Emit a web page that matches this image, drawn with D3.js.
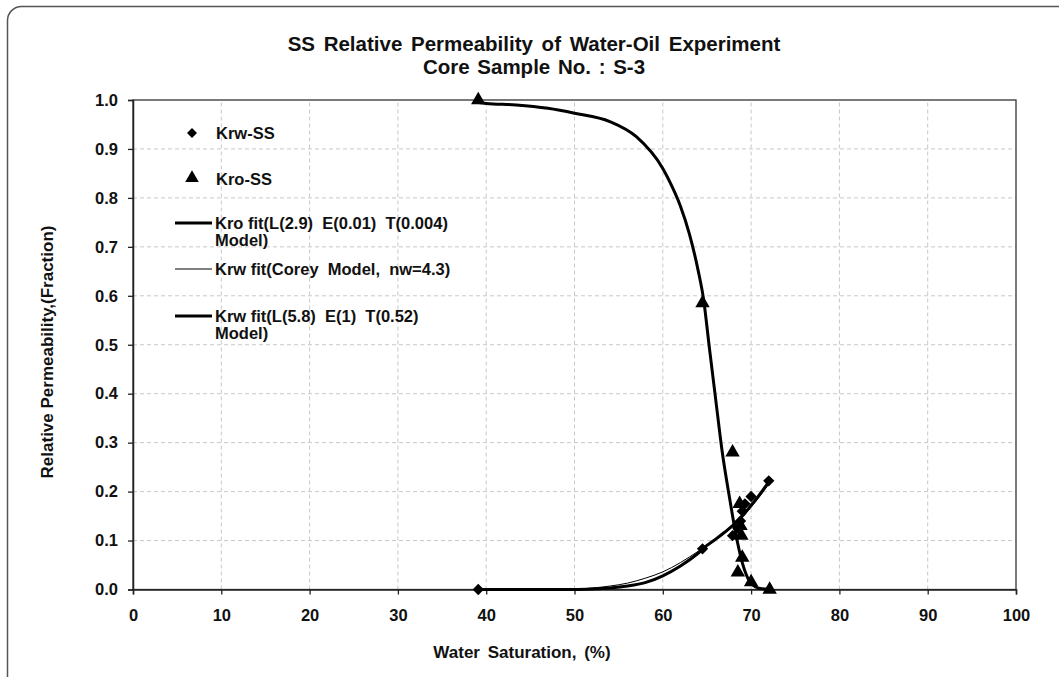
<!DOCTYPE html>
<html>
<head>
<meta charset="utf-8">
<script src="https://cdn.jsdelivr.net/npm/d3@7"></script>
<style>
  body { margin: 0; background: #fff; }
  svg { display: block; font-family: "Liberation Sans", Arial, sans-serif; font-weight: bold; }
</style>
</head>
<body>
<div id="chart"></div>
<script>
// measured points
const krwSw = [39.1, 64.5, 67.9, 68.5, 68.8, 69.0, 69.3, 70.0, 72.0];
const krwVal = [0.0, 0.083, 0.11, 0.125, 0.14, 0.16, 0.175, 0.19, 0.222];
const kroSw = [39.1, 64.5, 67.9, 68.7, 68.8, 68.9, 69.0, 68.5, 70.0, 72.1];
const kroVal = [1.0, 0.585, 0.28, 0.175, 0.13, 0.11, 0.065, 0.035, 0.015, 0.0];

// fitted curves
const kroFitSw = [39.1, 40, 43.4, 47, 50, 54, 57, 60, 61, 62, 63, 64, 64.6, 65.3, 66.0, 66.7, 67.6, 68.2, 69, 69.9, 71, 72.1];
const kroFitVal = [0.995, 0.993, 0.99, 0.983, 0.973, 0.956, 0.925, 0.86, 0.825, 0.783, 0.727, 0.652, 0.595, 0.49, 0.387, 0.285, 0.183, 0.12, 0.055, 0.015, 0.002, 0.0];
const coreySw = [39.1, 45, 50, 52, 54, 56, 58, 60, 62, 64, 66, 68, 70, 72];
const coreyVal = [0, 0, 0.0008, 0.003, 0.007, 0.013, 0.023, 0.036, 0.055, 0.078, 0.102, 0.13, 0.168, 0.215];
const letSw = [39.1, 45, 50, 52, 54, 56, 58, 60, 62, 64, 65, 66, 67, 68, 69, 70, 71, 72];
const letVal = [0, 0, 0, 0.001, 0.003, 0.007, 0.014, 0.028, 0.048, 0.074, 0.09, 0.103, 0.117, 0.132, 0.15, 0.172, 0.195, 0.22];

const xTicks = [0, 10, 20, 30, 40, 50, 60, 70, 80, 90, 100];
const yTicks = [0, 0.1, 0.2, 0.3, 0.4, 0.5, 0.6, 0.7, 0.8, 0.9, 1.0];

const W = 1059, H = 677;
const margin = {left: 133, right: 43, top: 100, bottom: 87.5};
const fs = "16.5px";

const svg = d3.select("#chart").append("svg")
  .attr("width", W).attr("height", H);

// outer frame
svg.append("rect")
  .attr("x", 7.5).attr("y", 6.5)
  .attr("width", W + 20).attr("height", H + 20)
  .attr("rx", 14)
  .attr("fill", "none").attr("stroke", "#555").attr("stroke-width", 1.5);

const x = d3.scaleLinear().domain([0, 100]).range([margin.left, W - margin.right]);
const y = d3.scaleLinear().domain([0, 1]).range([H - margin.bottom, margin.top]);

// grid
svg.append("g")
  .selectAll("line")
  .data(xTicks.slice(1, -1))
  .join("line")
  .attr("x1", d => x(d)).attr("x2", d => x(d))
  .attr("y1", y(0)).attr("y2", y(1))
  .attr("stroke", "#c8c8c8").attr("stroke-dasharray", "4,3");
svg.append("g")
  .selectAll("line")
  .data(yTicks.slice(1, -1))
  .join("line")
  .attr("x1", x(0)).attr("x2", x(100))
  .attr("y1", d => y(d)).attr("y2", d => y(d))
  .attr("stroke", "#c8c8c8").attr("stroke-dasharray", "4,3");

// plot border
svg.append("rect")
  .attr("x", x(0)).attr("y", y(1))
  .attr("width", x(100) - x(0)).attr("height", y(0) - y(1))
  .attr("fill", "none").attr("stroke", "#333").attr("stroke-width", 1.3);

// axes
const xAxis = svg.append("g")
  .attr("transform", `translate(0,${y(0)})`)
  .call(d3.axisBottom(x).tickValues(xTicks).tickSize(5).tickPadding(15).tickFormat(d3.format("d")));
const yAxis = svg.append("g")
  .attr("transform", `translate(${x(0)},0)`)
  .call(d3.axisLeft(y).tickValues(yTicks).tickSize(5).tickPadding(10).tickFormat(d3.format(".1f")));
[xAxis, yAxis].forEach(a => {
  a.select(".domain").attr("stroke", "#222").attr("stroke-width", 1.5);
  a.selectAll(".tick line").attr("stroke", "#222").attr("stroke-width", 1.3);
  a.selectAll("text").attr("fill", "#111").style("font-size", fs).style("font-weight", "bold")
    .style("font-family", "Liberation Sans, Arial, sans-serif");
});

// curves
const line = d3.line().x(d => x(d[0])).y(d => y(d[1])).curve(d3.curveMonotoneX);
const zip = (a, b) => a.map((v, i) => [v, b[i]]);

svg.append("path").datum(zip(letSw, letVal)).attr("d", line)
  .attr("fill", "none").attr("stroke", "#000").attr("stroke-width", 3);
svg.append("path").datum(zip(coreySw, coreyVal)).attr("d", line)
  .attr("fill", "none").attr("stroke", "#000").attr("stroke-width", 1);
svg.append("path").datum(zip(kroFitSw, kroFitVal)).attr("d", line)
  .attr("fill", "none").attr("stroke", "#000").attr("stroke-width", 3);

// markers
const diamond = d3.symbol().type(d3.symbolSquare).size(64)();
const triangle = d3.symbol().type(d3.symbolTriangle).size(90)();

svg.append("g").selectAll("path")
  .data(zip(krwSw, krwVal))
  .join("path")
  .attr("d", diamond)
  .attr("transform", d => `translate(${x(d[0])},${y(d[1])}) rotate(45)`)
  .attr("fill", "#000");
svg.append("g").selectAll("path")
  .data(zip(kroSw, kroVal))
  .join("path")
  .attr("d", triangle)
  .attr("transform", d => `translate(${x(d[0])},${y(d[1])})`)
  .attr("fill", "#000");

// legend
const legend = svg.append("g").style("font-size", fs).attr("fill", "#111");
legend.append("path").attr("d", d3.symbol().type(d3.symbolSquare).size(50)())
  .attr("transform", "translate(192,133) rotate(45)").attr("fill", "#000");
legend.append("text").attr("x", 216).attr("y", 139).text("Krw-SS");
legend.append("path").attr("d", d3.symbol().type(d3.symbolTriangle).size(80)())
  .attr("transform", "translate(192,178)").attr("fill", "#000");
legend.append("text").attr("x", 216).attr("y", 185).text("Kro-SS");

const legLines = [
  {y: 223, w: 3, lines: ["Kro fit(L(2.9)  E(0.01)  T(0.004)", "Model)"]},
  {y: 269, w: 1, lines: ["Krw fit(Corey  Model,  nw=4.3)"]},
  {y: 316, w: 3, lines: ["Krw fit(L(5.8)  E(1)  T(0.52)", "Model)"]}
];
legLines.forEach(l => {
  legend.append("line").attr("x1", 175).attr("x2", 212).attr("y1", l.y).attr("y2", l.y)
    .attr("stroke", "#000").attr("stroke-width", l.w);
  l.lines.forEach((t, i) => {
    legend.append("text").attr("x", 215).attr("y", l.y + 6 + i * 17)
      .style("white-space", "pre").text(t);
  });
});

// titles
svg.append("text").attr("x", 534).attr("y", 51).attr("text-anchor", "middle")
  .style("font-size", "20.5px").style("word-spacing", "3px").attr("fill", "#111")
  .text("SS Relative Permeability of Water-Oil Experiment");
svg.append("text").attr("x", 534).attr("y", 74).attr("text-anchor", "middle")
  .style("font-size", "20.5px").style("word-spacing", "2px").attr("fill", "#111")
  .text("Core Sample No. : S-3");
svg.append("text").attr("x", 522).attr("y", 658).attr("text-anchor", "middle")
  .style("font-size", "17px").style("word-spacing", "3px").attr("fill", "#111")
  .text("Water Saturation, (%)");
svg.append("text").attr("transform", "translate(53,352) rotate(-90)").attr("text-anchor", "middle")
  .style("font-size", "17px").attr("fill", "#111")
  .text("Relative Permeability,(Fraction)");
</script>
</body>
</html>
